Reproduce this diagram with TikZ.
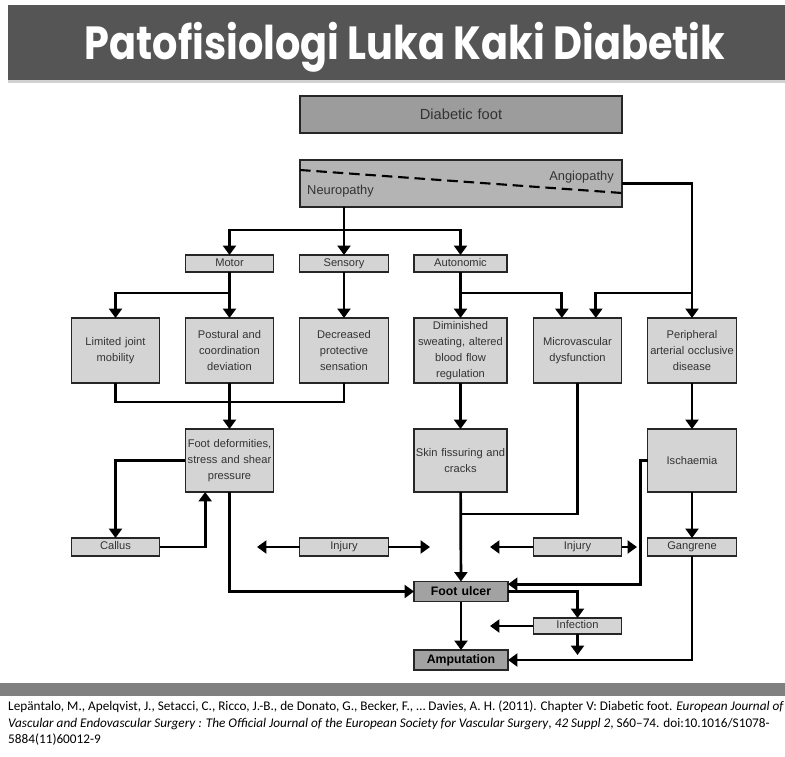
\documentclass[tikz,border=0pt]{standalone}
\usepackage{fontspec}
\usepackage{graphicx}
\setmainfont{Liberation Sans}
\newfontfamily\titlefont{Poppins}
\newfontfamily\citefont{Carlito}
\usetikzlibrary{arrows.meta}
\definecolor{barcol}{HTML}{555555}
\definecolor{footcol}{HTML}{808080}
\definecolor{topgray}{HTML}{9C9C9C}
\definecolor{midgray}{HTML}{B4B4B4}
\definecolor{boxgray}{HTML}{D4D4D4}
\definecolor{keygray}{HTML}{A2A2A2}
\definecolor{textgray}{HTML}{333333}

\begin{document}
\begin{tikzpicture}[
    x=0.03cm, y=-0.03cm,
    box/.style={rectangle, draw=black!85, line width=1.1pt, fill=boxgray, text=textgray, minimum width=2.66cm, minimum height=1.95cm, text width=2.6cm, align=center, inner sep=0pt, outer sep=0pt, font=\fontsize{9.5}{13.5}\selectfont},
    tag/.style={box, minimum height=0.51cm, text height=7pt, text depth=2pt},
    key/.style={box, fill=keygray, text=black, minimum width=2.82cm, minimum height=0.6cm, text height=8pt, text depth=2pt, font=\fontsize{10.5}{12}\selectfont\bfseries},
    lbl/.style={text=textgray, inner sep=0pt, font=\fontsize{11}{13}\selectfont},
    arrow/.style={-{Triangle[width=11pt, length=8pt]}, line width=2.3pt},
    line/.style={line width=2.3pt},
    dashline/.style={line width=1.8pt, dash pattern=on 9pt off 5pt}
]
\useasboundingbox (0,0) rectangle (785,756);

% Title
\fill[barcol] (8,5) rectangle (785,80);
\fill[black!18] (8,80) rectangle (785,83);
\node[text=white, font=\titlefont\bfseries] (title) at (405,47) {\resizebox*{19.2cm}{1.5cm}{Patofisiologi Luka Kaki Diabetik}};

% Row 1: Diabetic foot and its two branches
\node[box, fill=topgray, minimum width=9.66cm, minimum height=1.11cm, text width=9cm, font=\fontsize{12.5}{14}\selectfont] (diabetic) at (461,114.5) {Diabetic foot};
\node[box, fill=midgray, minimum width=9.66cm, minimum height=1.41cm, text width=9cm] (neuro) at (461,183.5) {};
\draw[dashline] ([yshift=-0.3cm]neuro.north west) -- ([yshift=0.42cm]neuro.south east);
\node[lbl, anchor=east] (angio) at (614,177) {Angiopathy};
\node[lbl, anchor=west] (neurolbl) at (307,191) {Neuropathy};

% Row 2: Neuropathy types
\node[tag] (motor) at (229.5,263.5) {Motor};
\node[tag] (sensory) at (344,263.5) {Sensory};
\node[tag, minimum width=2.79cm] (autonomic) at (460.5,263.5) {Autonomic};

% Row 3: Consequences
\node[box] (limited) at (115.5,350.5) {Limited joint\\mobility};
\node[box] (postural) at (229.5,350.5) {Postural and\\coordination\\deviation};
\node[box] (decreased) at (344,350.5) {Decreased\\protective\\sensation};
\node[box, minimum width=2.79cm, text width=2.75cm] (diminished) at (460.5,350.5) {Diminished\\sweating, altered\\blood flow\\regulation};
\node[box] (micro) at (577.5,350.5) {Microvascular\\dysfunction};
\node[box] (peripheral) at (692,350.5) {Peripheral\\arterial occlusive\\disease};

% Row 4
\node[box, minimum height=1.89cm] (footdef) at (229.5,460.5) {Foot deformities,\\stress and shear\\pressure};
\node[box, minimum width=2.79cm, text width=2.75cm, minimum height=1.89cm] (skin) at (460.5,460.5) {Skin fissuring and\\cracks};
\node[box, minimum height=1.89cm] (ischaemia) at (692,460.5) {Ischaemia};

% Row 5
\node[tag, minimum height=0.54cm] (callus) at (115.5,547) {Callus};
\node[tag, minimum height=0.54cm] (injuryA) at (344,547) {Injury};
\node[tag, minimum height=0.54cm] (injuryB) at (577.5,547) {Injury};
\node[tag, minimum height=0.54cm] (gangrene) at (692,547) {Gangrene};

% Row 6: Outcome
\node[key] (ulcer) at (461,591.5) {Foot ulcer};
\node[tag, minimum height=0.48cm] (infection) at (577.5,626) {Infection};
\node[key] (amputation) at (461,660) {Amputation};

% Split points and free ends
\coordinate (nsplit) at (344,230);
\coordinate (msplit) at (229.5,293);
\coordinate (asplit) at (460.5,293);
\coordinate (psplit) at (692,293);
\coordinate (merge) at (229.5,402);
\coordinate (mjoin) at (460.5,514);
\coordinate (injAl) at (257,547);
\coordinate (injAr) at (430,547);
\coordinate (injBl) at (490,547);
\coordinate (injBr) at (637,547);
\coordinate (infl) at (490,626);
\coordinate (infd) at (577.5,655);

% Arrows
\draw[arrow] (neuro.south -| sensory) -- (sensory);
\draw[arrow] (nsplit) -| (motor);
\draw[arrow] (nsplit) -| (autonomic);
\draw[arrow] (neuro.east) -| (peripheral);
\draw[arrow] (psplit) -| ([xshift=0.55cm]micro.north);
\draw[arrow] (motor) -- (postural);
\draw[arrow] (msplit) -| (limited);
\draw[arrow] (sensory) -- (decreased);
\draw[arrow] (autonomic) -- (diminished);
\draw[arrow] (asplit) -| ([xshift=-0.47cm]micro.north);

\draw[line] (limited) |- (merge) -| (decreased);
\draw[arrow] (postural) -- (footdef);
\draw[arrow] (footdef.west) -| (callus);
\draw[arrow] (callus.east) -| ([xshift=-0.73cm]footdef.south);
\draw[arrow] (footdef) |- (ulcer);
\draw[arrow] (injuryA.west) -- (injAl);
\draw[arrow] (injuryA.east) -- (injAr);

\draw[arrow] (diminished) -- (skin);
\draw[arrow] (skin) -- (ulcer);
\draw[line] (micro) |- (mjoin);
\draw[arrow] (injuryB.west) -- (injBl);
\draw[arrow] (injuryB.east) -- (injBr);

\draw[arrow] (peripheral) -- (ischaemia);
\draw[arrow] (ischaemia) -- (gangrene);
\draw[arrow] (ischaemia.west) -- ++(-7,0) |- ([yshift=0.22cm]ulcer.east);

% Infection and amputation
\draw[arrow] (ulcer.east) -| (infection);
\draw[arrow] (infection.west) -- (infl);
\draw[arrow] (infection) -- (infd);
\draw[arrow] (ulcer) -- (amputation);
\draw[arrow] (gangrene) |- (amputation);

% Reference
\fill[footcol] (0,683) rectangle (785,696);
\node[anchor=north west, align=left, inner sep=0pt, font=\citefont\fontsize{11.3}{14}\selectfont] (cite) at (8,701) {Lepäntalo, M., Apelqvist, J., Setacci, C., Ricco, J.-B., de Donato, G., Becker, F., … Davies, A. H. (2011). Chapter V: Diabetic foot. \textit{European Journal of}\\\textit{Vascular and Endovascular Surgery : The Official Journal of the European Society for Vascular Surgery}, \textit{42 Suppl 2}, S60–74. doi:10.1016/S1078-\\5884(11)60012-9};
\end{tikzpicture}
\end{document}
